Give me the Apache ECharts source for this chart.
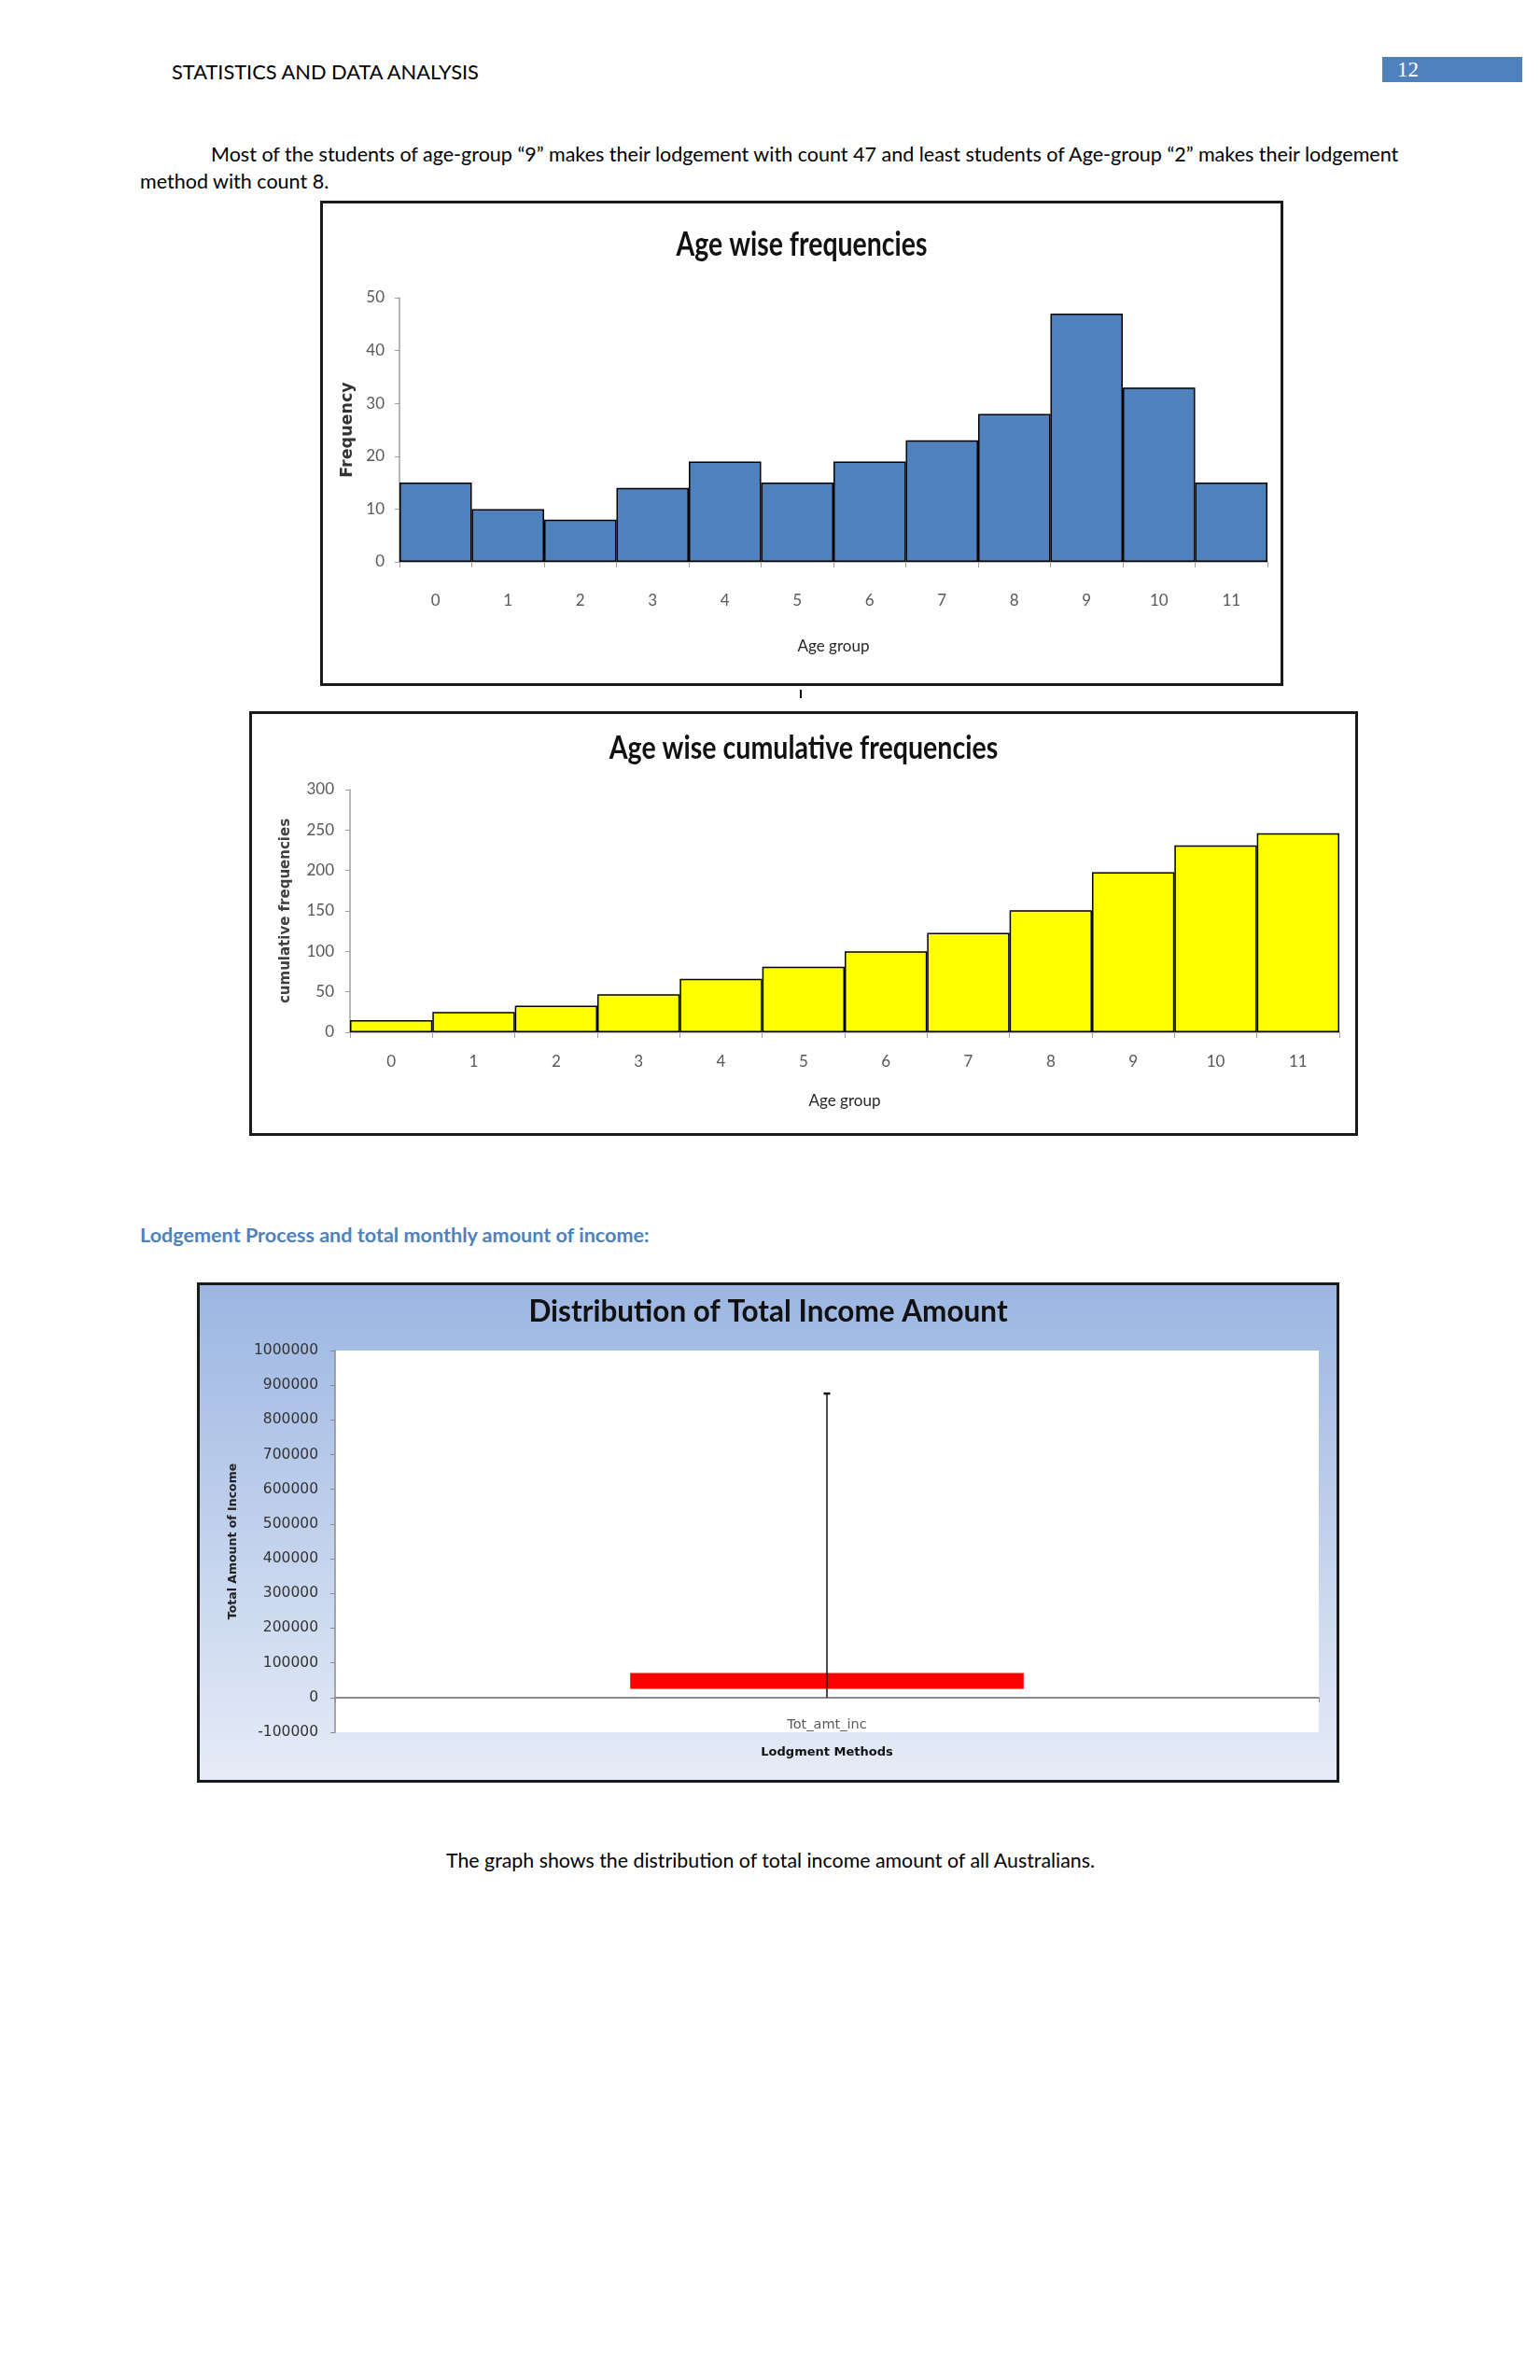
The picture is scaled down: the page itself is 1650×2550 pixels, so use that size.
<!DOCTYPE html>
<html><head><meta charset="utf-8">
<script src="https://cdn.jsdelivr.net/npm/echarts@6/dist/echarts.min.js"></script>
<style>
html,body{margin:0;padding:0;background:#fff;}
body{width:1650px;height:2550px;position:relative;overflow:hidden;font-family:Lato,"Open Sans",sans-serif;color:#000;}
.t{position:absolute;white-space:nowrap;line-height:30px;height:30px;}
.frame{position:absolute;box-sizing:border-box;border:3px solid #1a1a1a;}
.frame>div{width:100%;height:100%;}
</style></head><body>
<div class="t fit" data-w="329" style="left:184px;top:62px;font-size:20px;">STATISTICS AND DATA ANALYSIS</div>
<div style="position:absolute;left:1481px;top:61px;width:150px;height:27px;background:#4f81bd;"></div>
<div class="t" style="left:1497px;top:61px;height:27px;line-height:27px;font-family:'Liberation Serif','DejaVu Serif',serif;font-size:23px;color:#fff;">12</div>
<div class="t fit" id="p1" data-w="1273" style="left:226px;top:150px;font-size:20px;">Most of the students of age-group “9” makes their lodgement with count 47 and least students of Age-group “2” makes their lodgement</div>
<div class="t" id="p2" style="left:150px;top:179px;font-size:20px;">method with count 8.</div>

<div class="frame" style="left:343px;top:215px;width:1032px;height:520px;"><div id="c1"></div></div>
<div style="position:absolute;left:857px;top:739px;width:2px;height:9px;background:#111;"></div>
<div class="frame" style="left:267px;top:762px;width:1188px;height:455px;"><div id="c2"></div></div>

<div class="t fit" data-w="546" style="left:150px;top:1308px;font-size:20px;font-weight:bold;color:#4f81bd;">Lodgement Process and total monthly amount of income:</div>

<div class="frame" style="left:211px;top:1374px;width:1224px;height:536px;"><div id="c3"></div></div>

<div class="t fit" data-w="695" style="left:478px;top:1978px;font-size:20px;">The graph shows the distribution of total income amount of all Australians.</div>

<script>
// ---- data ----
const ageGroups = ['0','1','2','3','4','5','6','7','8','9','10','11'];
const frequencies = [15,10,8,14,19,15,19,23,28,47,33,15];
const cumulativeFrequencies = [15,25,33,47,66,81,100,123,151,198,231,246];
const incomeCategories = ['Tot_amt_inc'];
// [min, Q1, Q3, max]
const incomeBoxStats = [0, 25000, 71000, 876000];

// ---- fit page text widths ----
document.querySelectorAll('.fit').forEach(el => {
  const fs = parseFloat(el.style.fontSize);
  const w = el.getBoundingClientRect().width;
  el.style.fontSize = (fs * parseFloat(el.dataset.w) / w).toFixed(2) + 'px';
});
document.getElementById('p2').style.fontSize = document.getElementById('p1').style.fontSize;

const F = 'Lato, "Open Sans", sans-serif';
const DV = '"DejaVu Sans", Verdana, sans-serif';

function titleGraphic(text, cx, cy, fs, sx) {
  return [{ type: 'text', x: cx, y: cy, scaleX: sx, silent: true,
    style: { text: text, fontFamily: F, fontSize: fs, fontWeight: 'bold', fill: '#111',
             align: 'center', verticalAlign: 'middle', textAlign: 'center', textVerticalAlign: 'middle' } }];
}

// ---- chart 1 ----
const c1 = echarts.init(document.getElementById('c1'), null, {renderer:'canvas'});
c1.setOption({
  animation: false,
  backgroundColor: '#fff',
  graphic: titleGraphic('Age wise frequencies', 513, 44, 36, 0.79),
  grid: { left: 82, top: 101, width: 930, height: 283, outerBoundsMode: 'none' },
  xAxis: {
    type: 'category', data: ageGroups,
    axisLine: { lineStyle: { color: '#a0a0a0', width: 1.5 } },
    axisTick: { show: true, length: 6, lineStyle: { color: '#a0a0a0' } },
    axisLabel: { margin: 33, color: '#595959', fontSize: 17, fontFamily: F },
    name: 'Age group', nameLocation: 'middle', nameGap: 82,
    nameTextStyle: { fontFamily: F, fontSize: 17, color: '#262626' }
  },
  yAxis: {
    type: 'value', min: 0, max: 50, interval: 10,
    axisLine: { show: true, lineStyle: { color: '#a0a0a0', width: 1.5 } },
    axisTick: { show: true, length: 5, lineStyle: { color: '#a0a0a0' } },
    splitLine: { show: false },
    axisLabel: { margin: 16, color: '#595959', fontSize: 17, fontFamily: F },
    name: 'Frequency', nameLocation: 'middle', nameRotate: 90, nameGap: 39,
    nameTextStyle: { fontFamily: DV, fontSize: 17.5, fontWeight: 'bold', color: '#333' }
  },
  series: [{
    type: 'bar', data: frequencies, barCategoryGap: '0%',
    itemStyle: { color: '#4f81bd', borderColor: '#000', borderWidth: 1.5 }
  }]
});

// ---- chart 2 ----
const c2 = echarts.init(document.getElementById('c2'), null, {renderer:'canvas'});
c2.setOption({
  animation: false,
  backgroundColor: '#fff',
  graphic: titleGraphic('Age wise cumulative frequencies', 591, 37, 34, 0.84),
  grid: { left: 105, top: 81, width: 1060, height: 260, outerBoundsMode: 'none' },
  xAxis: {
    type: 'category', data: ageGroups,
    axisLine: { lineStyle: { color: '#a0a0a0', width: 1.5 } },
    axisTick: { show: true, length: 6, lineStyle: { color: '#a0a0a0' } },
    axisLabel: { margin: 23, color: '#595959', fontSize: 17, fontFamily: F },
    name: 'Age group', nameLocation: 'middle', nameGap: 65,
    nameTextStyle: { fontFamily: F, fontSize: 17, color: '#262626' }
  },
  yAxis: {
    type: 'value', min: 0, max: 300, interval: 50,
    axisLine: { show: true, lineStyle: { color: '#a0a0a0', width: 1.5 } },
    axisTick: { show: true, length: 5, lineStyle: { color: '#a0a0a0' } },
    splitLine: { show: false },
    axisLabel: { margin: 17, color: '#595959', fontSize: 17, fontFamily: F },
    name: 'cumulative frequencies', nameLocation: 'middle', nameRotate: 90, nameGap: 61,
    nameTextStyle: { fontFamily: DV, fontSize: 15, fontWeight: 'bold', color: '#404040' }
  },
  series: [{
    type: 'bar', data: cumulativeFrequencies, barCategoryGap: '0%',
    itemStyle: { color: '#ffff00', borderColor: '#000', borderWidth: 1.5 }
  }]
});

// ---- chart 3 ----
const c3 = echarts.init(document.getElementById('c3'), null, {renderer:'canvas'});
c3.setOption({
  animation: false,
  backgroundColor: { type: 'linear', x: 0, y: 0, x2: 0, y2: 1,
    colorStops: [{ offset: 0, color: '#9cb6e2' }, { offset: 1, color: '#e6ecf7' }] },
  graphic: titleGraphic('Distribution of Total Income Amount', 609, 29, 31.5, 1),
  grid: { left: 145, top: 70, width: 1054, height: 409, show: true, backgroundColor: '#fff', borderWidth: 0, outerBoundsMode: 'none' },
  xAxis: {
    type: 'category', data: incomeCategories,
    axisLine: { onZero: true, lineStyle: { color: '#8c8c8c', width: 2 } },
    axisTick: { show: true, length: 5, lineStyle: { color: '#8c8c8c' } },
    axisLabel: { margin: -15, color: '#595959', fontSize: 14.5, fontFamily: DV },
    name: 'Lodgment Methods', nameLocation: 'middle', nameGap: 15,
    nameTextStyle: { fontFamily: DV, fontSize: 13, fontWeight: 'bold', color: '#111' }
  },
  yAxis: {
    type: 'value', min: -100000, max: 1000000, interval: 100000,
    axisLine: { show: true, lineStyle: { color: '#8c8c8c', width: 1.5 } },
    axisTick: { show: true, length: 5, lineStyle: { color: '#8c8c8c' } },
    splitLine: { show: false },
    axisLabel: { margin: 18, color: '#333', fontSize: 15.5, fontFamily: DV, formatter: v => String(v) },
    name: 'Total Amount of Income', nameLocation: 'middle', nameRotate: 90, nameGap: 103,
    nameTextStyle: { fontFamily: DV, fontSize: 12.5, fontWeight: 'bold', color: '#222' }
  },
  series: [{
    type: 'custom',
    data: [[0].concat(incomeBoxStats)],
    encode: { x: 0, y: [1, 2, 3, 4] },
    renderItem: function (params, api) {
      const x = api.value(0);
      const pMin = api.coord([x, api.value(1)]);
      const pQ1 = api.coord([x, api.value(2)]);
      const pQ3 = api.coord([x, api.value(3)]);
      const pMax = api.coord([x, api.value(4)]);
      const bw = api.size([1, 0])[0] * 0.4;
      return { type: 'group', children: [
        { type: 'rect', shape: { x: pQ1[0] - bw / 2, y: pQ3[1], width: bw, height: pQ1[1] - pQ3[1] },
          style: { fill: '#ff0000' } },
        { type: 'line', shape: { x1: pMax[0], y1: pMax[1], x2: pMin[0], y2: pMin[1] },
          style: { stroke: '#111', lineWidth: 1.5 } },
        { type: 'line', shape: { x1: pMax[0] - 3.5, y1: pMax[1], x2: pMax[0] + 3.5, y2: pMax[1] },
          style: { stroke: '#111', lineWidth: 2.5 } }
      ]};
    }
  }]
});
</script>
</body></html>
